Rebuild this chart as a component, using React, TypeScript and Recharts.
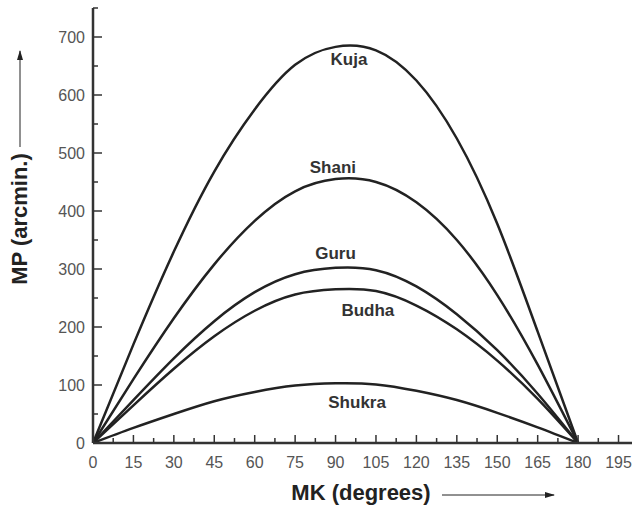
import React from 'react';
import { LineChart, Line, XAxis, YAxis, ReferenceDot } from 'recharts';

// MK (degrees) sample points
const mk = [0, 15, 30, 45, 60, 75, 90, 105, 120, 135, 150, 165, 180];

// MP (arcmin.) for each planet
const kuja = [0, 170, 330, 468, 575, 652, 683, 677, 625, 525, 378, 192, 0];
const shani = [0, 110, 215, 308, 383, 434, 455, 450, 415, 350, 255, 135, 0];
const guru = [0, 74, 146, 210, 260, 291, 302, 298, 270, 222, 160, 85, 0];
const budha = [0, 65, 128, 184, 228, 256, 265, 262, 237, 196, 142, 76, 0];
const shukra = [0, 26, 50, 72, 88, 99, 103, 101, 90, 74, 52, 27, 0];

const xTicks = [0, 7.5, 15, 22.5, 30, 37.5, 45, 52.5, 60, 67.5, 75, 82.5, 90, 97.5, 105, 112.5, 120, 127.5, 135, 142.5, 150, 157.5, 165, 172.5, 180, 187.5, 195];
const yTicks = [0, 50, 100, 150, 200, 250, 300, 350, 400, 450, 500, 550, 600, 650, 700, 750];

const data = mk.map((d, i) => ({
  mk: d,
  kuja: kuja[i],
  shani: shani[i],
  guru: guru[i],
  budha: budha[i],
  shukra: shukra[i],
}));

const FONT = 'Arial, "Liberation Sans", Helvetica, sans-serif';
const INK = '#222';
const AXIS = '#333';

const XTick = (props: any) => {
  const { x, y, payload } = props;
  const major = payload.value % 15 === 0;
  return (
    <g>
      <line x1={x} x2={x} y1={y} y2={y - (major ? 8 : 5)} stroke={AXIS} strokeWidth={1.5} />
      {major && (
        <text x={x} y={y + 25} textAnchor="middle" fill="#555" fontSize={16} fontFamily={FONT}>
          {payload.value}
        </text>
      )}
    </g>
  );
};

const YTick = (props: any) => {
  const { x, y, payload } = props;
  const major = payload.value % 100 === 0;
  return (
    <g>
      <line x1={x} x2={x + (major ? 9 : 5)} y1={y} y2={y} stroke={AXIS} strokeWidth={1.5} />
      {major && (
        <text x={x - 8} y={y + 5.5} textAnchor="end" fill="#555" fontSize={16} fontFamily={FONT}>
          {payload.value}
        </text>
      )}
    </g>
  );
};

const curveLabel = (value: string) => ({
  value,
  position: 'center' as const,
  fill: '#333',
  fontSize: 17,
  fontWeight: 'bold',
  fontFamily: FONT,
});

export default function App() {
  return (
    <div style={{ position: 'absolute', left: 0, top: 0, width: 632, height: 511, background: '#fff' }}>
      <LineChart width={632} height={511} data={data} margin={{ top: 8, right: 0, left: 0, bottom: 0 }}>
        <XAxis
          dataKey="mk"
          type="number"
          domain={[0, 200]}
          ticks={xTicks}
          interval={0}
          height={68}
          tickSize={0}
          tickMargin={0}
          tick={<XTick />}
          axisLine={{ stroke: AXIS, strokeWidth: 2.5 }}
          tickLine={false}
        />
        <YAxis
          type="number"
          domain={[0, 750]}
          ticks={yTicks}
          interval={0}
          width={93}
          tickSize={0}
          tickMargin={0}
          tick={<YTick />}
          axisLine={{ stroke: AXIS, strokeWidth: 2.5 }}
          tickLine={false}
        />
        <Line type="natural" dataKey="kuja" stroke={INK} strokeWidth={2.5} dot={false} isAnimationActive={false} />
        <Line type="natural" dataKey="shani" stroke={INK} strokeWidth={2.5} dot={false} isAnimationActive={false} />
        <Line type="natural" dataKey="guru" stroke={INK} strokeWidth={2.5} dot={false} isAnimationActive={false} />
        <Line type="natural" dataKey="budha" stroke={INK} strokeWidth={2.5} dot={false} isAnimationActive={false} />
        <Line type="natural" dataKey="shukra" stroke={INK} strokeWidth={2.5} dot={false} isAnimationActive={false} />
        <ReferenceDot x={95} y={662} r={0} label={curveLabel('Kuja')} />
        <ReferenceDot x={89} y={476} r={0} label={curveLabel('Shani')} />
        <ReferenceDot x={90} y={328} r={0} label={curveLabel('Guru')} />
        <ReferenceDot x={102} y={229} r={0} label={curveLabel('Budha')} />
        <ReferenceDot x={98} y={71} r={0} label={curveLabel('Shukra')} />
      </LineChart>
      <svg width={632} height={511} style={{ position: 'absolute', left: 0, top: 0, pointerEvents: 'none' }}>
        <defs>
          <marker id="arrowHead" markerWidth="10" markerHeight="6" refX="9" refY="3" orient="auto">
            <path d="M0,0 L10,3 L0,6 Z" fill={INK} />
          </marker>
        </defs>
        <text
          x={27}
          y={219}
          transform="rotate(-90 27 219)"
          textAnchor="middle"
          fill={INK}
          fontSize={22}
          fontWeight="bold"
          fontFamily={FONT}
        >
          MP (arcmin.)
        </text>
        <line x1={20} y1={147} x2={20} y2={51} stroke={INK} strokeWidth={1} markerEnd="url(#arrowHead)" />
        <text x={361} y={500} textAnchor="middle" fill={INK} fontSize={22} fontWeight="bold" fontFamily={FONT}>
          MK (degrees)
        </text>
        <line x1={442} y1={495} x2={554} y2={495} stroke={INK} strokeWidth={1} markerEnd="url(#arrowHead)" />
      </svg>
    </div>
  );
}
